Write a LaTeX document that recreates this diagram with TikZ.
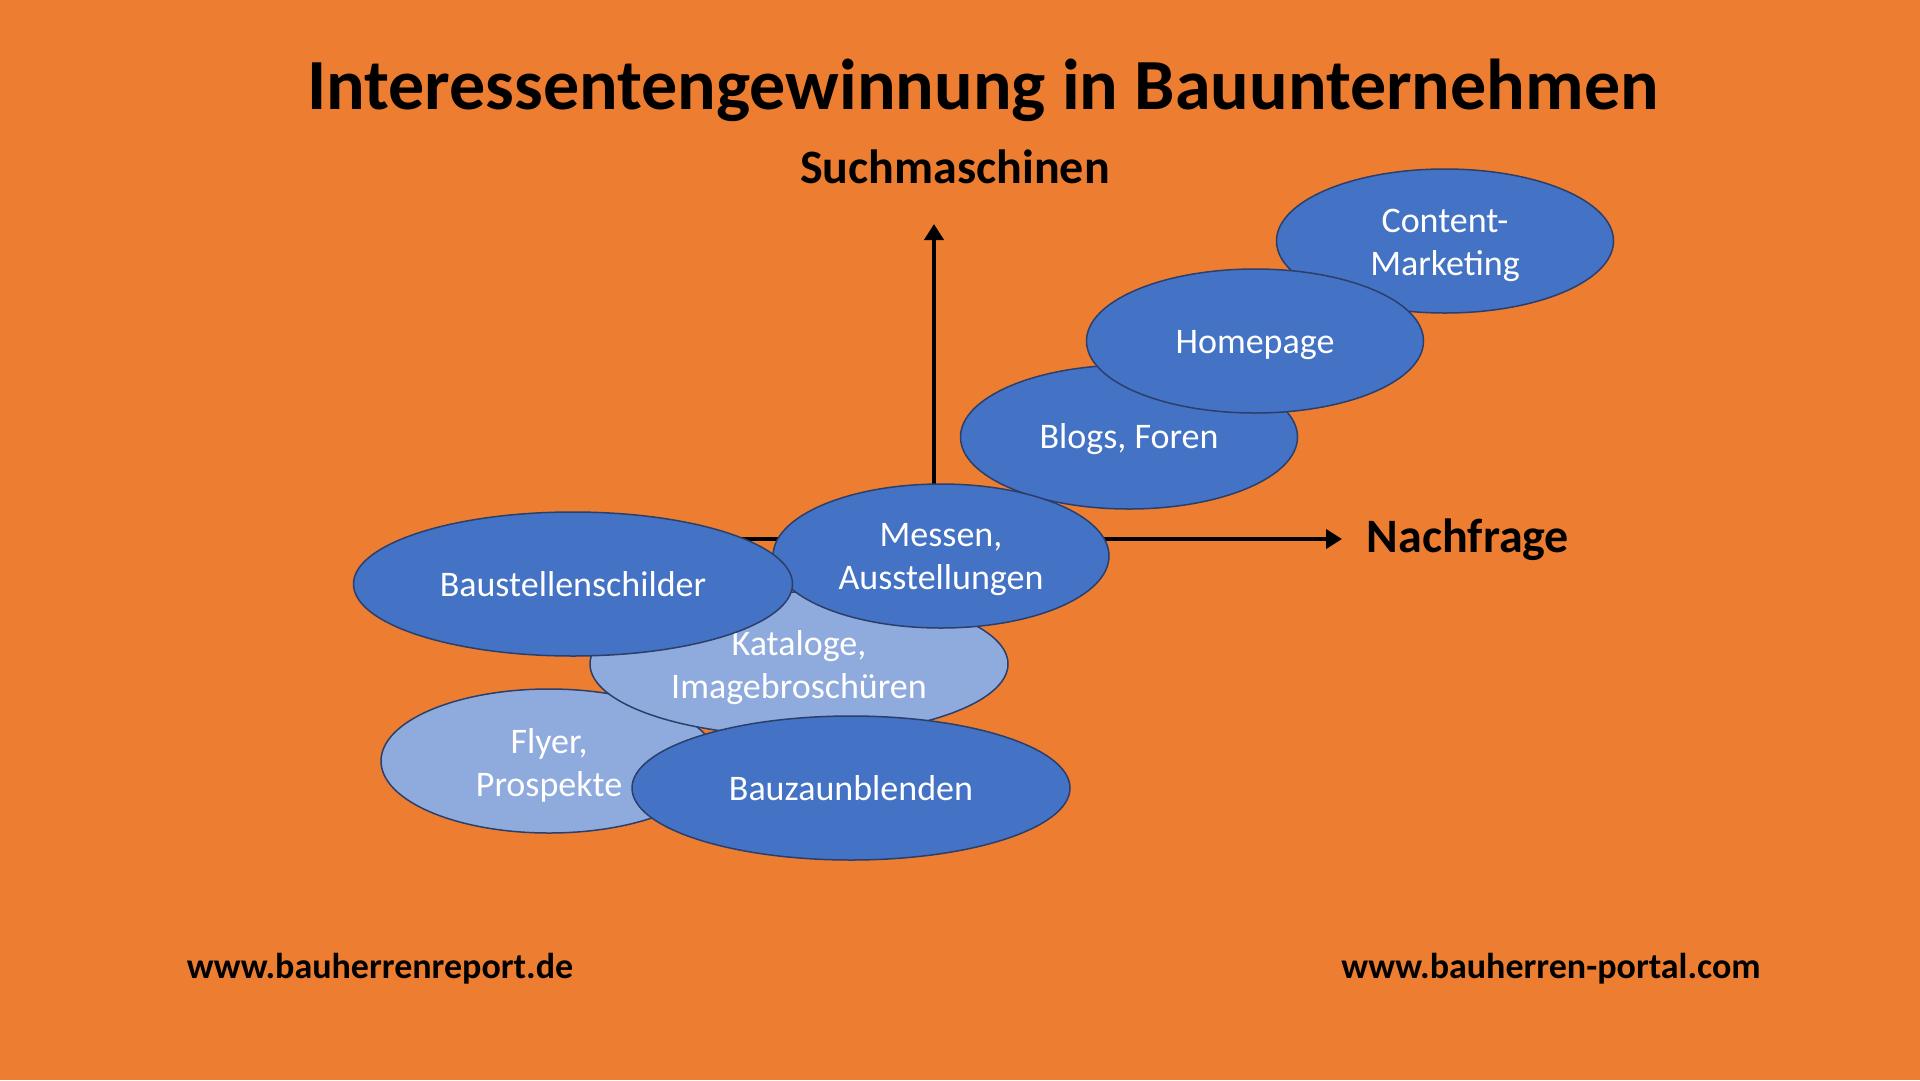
\documentclass[tikz,border=0pt]{standalone}
\usepackage{fontspec}
\setmainfont{Carlito}
\usetikzlibrary{shapes.geometric,arrows.meta}
\definecolor{bgorange}{HTML}{ED7D31}
\definecolor{darkblue}{HTML}{4472C4}
\definecolor{lightblue}{HTML}{8FAADC}
\definecolor{edgeblue}{HTML}{2B3F6B}
\tikzset{
  blob/.style={ellipse, draw=edgeblue, line width=1.5pt, inner sep=0pt,
    minimum height=144pt, text=white, align=center,
    font=\fontsize{36}{43}\selectfont},
  darkblob/.style={blob, fill=darkblue},
  lightblob/.style={blob, fill=lightblue},
  blobtext/.style={text=white, align=center, inner sep=0pt,
    font=\fontsize{36}{43}\selectfont, yshift=-4pt},
  axis/.style={line width=4.5pt, -{Triangle[length=16pt,width=19pt]}},
  bigtitle/.style={font=\fontsize{72}{80}\selectfont\bfseries},
  axislabel/.style={font=\fontsize{48}{56}\selectfont\bfseries},
  footer/.style={font=\fontsize{36}{40}\selectfont\bfseries}
}
\begin{document}
\begin{tikzpicture}[x=1pt,y=-1pt]
\fill[bgorange] (0,0) rectangle (1920,1080);
\useasboundingbox (0,0) rectangle (1920,1080);

\node[bigtitle] (title) at (983,90) {Interessentengewinnung in Bauunternehmen};
\node[axislabel] (ylabel) at (955,167) {Suchmaschinen};
\node[axislabel] (xlabel) at (1468,540) {Nachfrage};

\coordinate (origin) at (934,539);
\coordinate (xstart) at (700,539);
\coordinate (xtip) at (1342,539);
\coordinate (ytip) at (934,224);
\draw[axis] (xstart) -- (xtip);
\draw[axis] (origin) -- (ytip);

\node[lightblob, minimum width=336pt, label={[blobtext]center:Flyer,\\Prospekte}] (flyer) at (549,761) {};
\node[lightblob, minimum width=418pt, label={[blobtext]center:Kataloge,\\Imagebroschüren}] (kataloge) at (799,664) {};
\node[darkblob, minimum width=438pt] (bauzaun) at (851,788) {Bauzaunblenden};
\node[darkblob, minimum width=337pt, label={[blobtext]center:Content-\\Marketing}] (content) at (1445,241) {};
\node[darkblob, minimum width=337pt, label={[blobtext, yshift=2pt]center:Blogs, Foren}] (blogs) at (1129,437) {};
\node[darkblob, minimum width=337pt, label={[blobtext]center:Homepage}] (homepage) at (1255,341) {};
\node[darkblob, minimum width=336pt, label={[blobtext]center:Messen,\\Ausstellungen}] (messen) at (941,556) {};
\node[darkblob, minimum width=439pt] (schilder) at (573,584) {Baustellenschilder};

\node[footer] (url1) at (380,969) {www.bauherrenreport.de};
\node[footer] (url2) at (1551,969) {www.bauherren-portal.com};
\end{tikzpicture}
\end{document}
